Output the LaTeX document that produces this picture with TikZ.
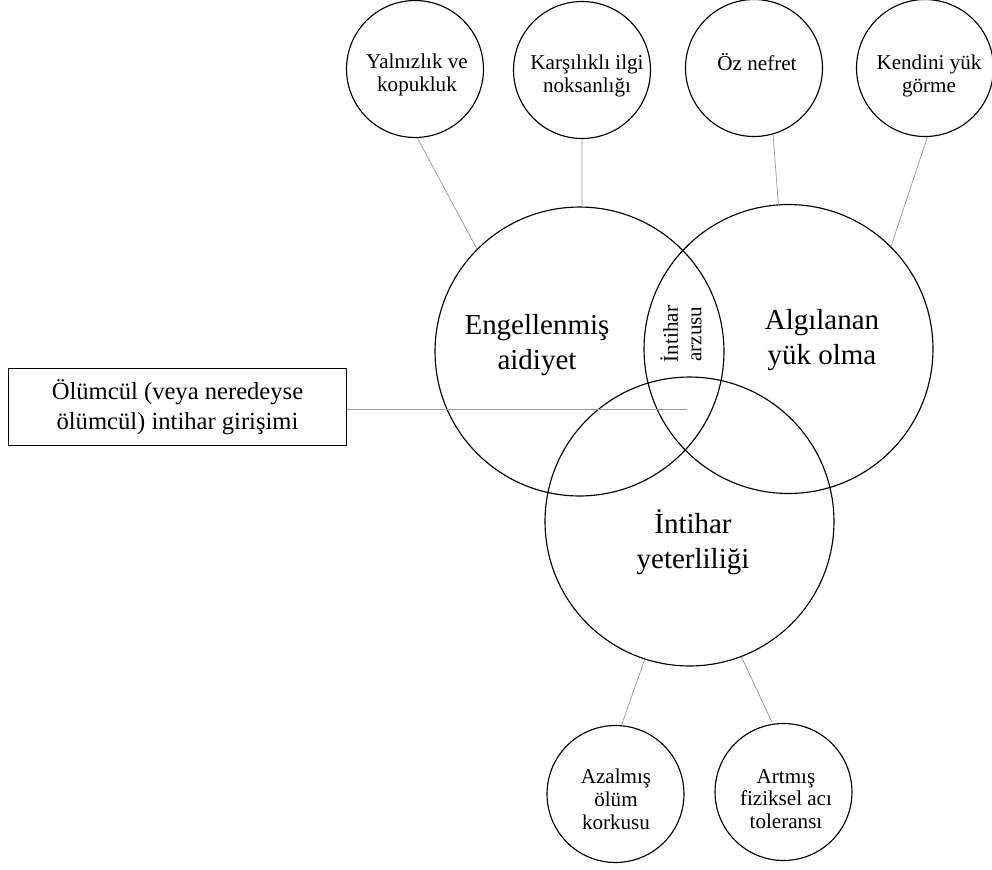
\documentclass[tikz,border=0pt]{standalone}
\usepackage{fontspec}
\setmainfont{Liberation Serif}
\begin{document}
\begin{tikzpicture}[x=0.02cm,y=-0.02cm,
    bigcirc/.style={draw,circle,line width=0.65pt,minimum size=5.78cm,inner sep=0pt},
    smallcirc/.style={draw,circle,line width=0.65pt,minimum size=2.74cm,inner sep=0pt},
    bigtext/.style={align=center,font=\fontsize{16.5}{19.8}\selectfont},
    smalltext/.style={align=center,font=\fontsize{12}{13.4}\selectfont},
    link/.style={draw=gray!80,line width=0.4pt}]
\useasboundingbox (0,0) rectangle (992,870);

\node[bigcirc] (eng) at (579.5,351.5){};
\node[bigcirc] (alg) at (788.5,349){};
\node[bigcirc] (yet) at (689.5,521.5){};

\foreach \n/\x/\y in {yal/415/69, kar/582/70, oz/754/68, ken/925/68, azal/615.5/794, art/783.5/792}
{
    \node[smallcirc] (\n) at (\x,\y){};
}

\node[bigtext] (engtext) at (537,345){Engellenmiş\\aidiyet};
\node[bigtext] (algtext) at (822,340){Algılanan\\yük olma};
\node[bigtext] (yettext) at (693,542){İntihar\\yeterliliği};
\node[smalltext,rotate=90] (arz) at (681,334){İntihar\\arzusu};

\node[smalltext] (yaltext) at (417,75){Yalnızlık ve\\kopukluk};
\node[smalltext] (kartext) at (587,76){Karşılıklı ilgi\\noksanlığı};
\node[smalltext] (oztext) at (757,62){Öz nefret};
\node[smalltext] (kentext) at (929,76){Kendini yük\\görme};
\node[smalltext,font=\fontsize{12}{13}\selectfont] (azaltext) at (616,799){Azalmış\\ölüm\\korkusu};
\node[smalltext,font=\fontsize{12}{13}\selectfont] (arttext) at (786,799){Artmış\\fiziksel acı\\toleransı};

\node[draw,line width=0.6pt,minimum width=6.78cm,minimum height=1.54cm,align=center,
    font=\fontsize{14}{17}\selectfont] (attempt) at (177.5,407){Ölümcül (veya neredeyse\\ölümcül) intihar girişimi};

\coordinate (arzend) at (687,409);

\draw[link](yal.-88)--(eng.135);
\draw[link](kar.south)--(eng.89);
\draw[link](oz.-74)--(alg.94);
\draw[link](ken.-88)--(alg.45);
\draw[link](yet.-108)--(azal.85);
\draw[link](yet.-69)--(art.99);
\draw[link](attempt.east |- arzend)--(arzend);

\end{tikzpicture}
\end{document}
